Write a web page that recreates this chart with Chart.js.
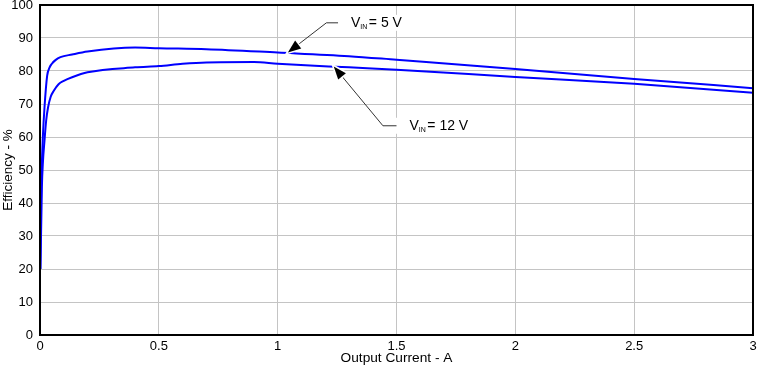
<!DOCTYPE html>
<html>
<head>
<meta charset="utf-8">
<script src="https://cdn.jsdelivr.net/npm/chart.js@4/dist/chart.umd.min.js"></script>
<style>
html, body { margin: 0; padding: 0; background: #fff; }
</style>
</head>
<body>
<canvas id="eff" width="757" height="371"></canvas>
<script>
// efficiency vs output current
var current5 = [0.001, 0.004, 0.007, 0.012, 0.019, 0.03, 0.04, 0.05, 0.065, 0.086, 0.135, 0.2, 0.4, 0.5, 0.7, 1.0, 1.3, 1.5, 2.0, 2.5, 3.0];
var eff5     = [20,    40,    50,    60,    69,    78.5, 81,   82.2, 83.3,  84.2,  85,    85.9, 87.1, 86.9, 86.6, 85.6, 84.5, 83.4, 80.6, 77.6, 74.8];

var current12 = [0.002, 0.008, 0.012, 0.019, 0.026, 0.034, 0.045, 0.058, 0.078, 0.1, 0.135, 0.2, 0.4, 0.5, 0.6, 0.7, 0.9, 1.0, 1.3, 1.5, 2.0, 2.5, 3.0];
var eff12     = [20,    45,    52,    59,    65,    69,    72.2,  74,    76,    77,  78.1,  79.6, 81.1, 81.5, 82.2, 82.6, 82.7, 82.2, 81.1, 80.4, 78.2, 76.1, 73.4];

var xTicks = [0, 0.5, 1, 1.5, 2, 2.5, 3];
var yTicks = [0, 10, 20, 30, 40, 50, 60, 70, 80, 90, 100];

var seriesNames = ['V_IN = 5 V', 'V_IN = 12 V'];

function toPoints(xs, ys) {
    return xs.map(function (x, i) { return { x: x, y: ys[i] }; });
}

var FONT = '"Liberation Sans", Arial, sans-serif';

// callouts, anchored in data units: arrow tip on the curve, elbow, end of the short flat bit
var notes = [
    { tip: [1.043, 85.6], elbow: [1.205, 94.6], end: [1.254, 94.6], main: '= 5 V' },
    { tip: [1.236, 81.4], elbow: [1.443, 63.4], end: [1.500, 63.4], main: '= 12 V' }
];

var framePlugin = {
    id: 'frame',
    afterDraw: function (chart) {
        var ctx = chart.ctx, a = chart.chartArea;
        var xs = chart.scales.x, ys = chart.scales.y;
        ctx.save();

        notes.forEach(function (n) {
            var tx = xs.getPixelForValue(n.tip[0]), ty = ys.getPixelForValue(n.tip[1]);
            var ex = xs.getPixelForValue(n.elbow[0]), ey = ys.getPixelForValue(n.elbow[1]);
            var hx = xs.getPixelForValue(n.end[0]);

            // label text widths
            ctx.font = '14px ' + FONT;
            var wV = ctx.measureText('V').width;
            var wMain = ctx.measureText(n.main).width;
            ctx.font = '7px ' + FONT;
            var wSub = ctx.measureText('IN').width;
            var textX = hx + 13;
            var total = wV + wSub + 1.5 + wMain;

            // white box behind the label
            ctx.fillStyle = '#fff';
            ctx.fillRect(hx - 1, ey - 8, textX - hx + total + 5, 16);

            // leader
            ctx.strokeStyle = '#333';
            ctx.lineWidth = 1;
            ctx.beginPath();
            ctx.moveTo(hx, ey);
            ctx.lineTo(ex, ey);
            ctx.lineTo(tx, ty);
            ctx.stroke();

            // arrow head
            var ang = Math.atan2(ty - ey, tx - ex);
            var len = 13, half = 5;
            var bx = tx - len * Math.cos(ang), by = ty - len * Math.sin(ang);
            var px = -Math.sin(ang) * half, py = Math.cos(ang) * half;
            ctx.beginPath();
            ctx.moveTo(tx, ty);
            ctx.lineTo(bx + px, by + py);
            ctx.lineTo(bx - px, by - py);
            ctx.closePath();
            ctx.strokeStyle = '#fff';
            ctx.lineWidth = 3;
            ctx.stroke();
            ctx.fillStyle = '#000';
            ctx.fill();

            // V_IN = x V
            ctx.fillStyle = '#000';
            ctx.textBaseline = 'middle';
            ctx.textAlign = 'left';
            ctx.font = '14px ' + FONT;
            ctx.fillText('V', textX, ey);
            ctx.font = '7px ' + FONT;
            ctx.fillText('IN', textX + wV, ey + 4);
            ctx.font = '14px ' + FONT;
            ctx.fillText(n.main, textX + wV + wSub + 1.5, ey);
        });

        // black box round the plot
        ctx.strokeStyle = '#000';
        ctx.lineWidth = 2;
        ctx.strokeRect(a.left, a.top, a.right - a.left, a.bottom - a.top);
        ctx.restore();
    }
};

new Chart(document.getElementById('eff'), {
    type: 'line',
    data: {
        datasets: [{
            label: seriesNames[0],
            data: toPoints(current5, eff5),
            borderColor: '#0000ff',
            borderWidth: 2,
            pointRadius: 0,
            fill: false,
            cubicInterpolationMode: 'monotone'
        }, {
            label: seriesNames[1],
            data: toPoints(current12, eff12),
            borderColor: '#0000ff',
            borderWidth: 2,
            pointRadius: 0,
            fill: false,
            cubicInterpolationMode: 'monotone'
        }]
    },
    options: {
        responsive: false,
        animation: false,
        devicePixelRatio: 1,
        layout: { padding: { left: 0, right: 4, top: 5, bottom: 0 } },
        plugins: {
            legend: { display: false },
            tooltip: { enabled: false }
        },
        scales: {
            x: {
                type: 'linear',
                min: xTicks[0],
                max: xTicks[xTicks.length - 1],
                afterBuildTicks: function (s) { s.ticks = xTicks.map(function (v) { return { value: v }; }); },
                afterFit: function (s) { s.height = 36; s.paddingLeft = 0; s.paddingRight = 0; },
                grid: { color: '#c4c4c4', lineWidth: 1, drawTicks: false },
                border: { color: '#000', width: 2 },
                ticks: {
                    color: '#000', padding: 4, font: { family: FONT, size: 13 },
                    callback: function (v) { return String(v); }
                },
                title: {
                    display: true,
                    text: 'Output Current - A',
                    color: '#000',
                    padding: { top: 0, bottom: 5 },
                    font: { family: FONT, size: 13.7 }
                }
            },
            y: {
                min: yTicks[0],
                max: yTicks[yTicks.length - 1],
                afterBuildTicks: function (s) { s.ticks = yTicks.map(function (v) { return { value: v }; }); },
                afterFit: function (s) { s.width = 40; s.paddingTop = 0; s.paddingBottom = 0; },
                grid: { color: '#c4c4c4', lineWidth: 1, drawTicks: false },
                border: { color: '#000', width: 2 },
                ticks: {
                    color: '#000', padding: 7, font: { family: FONT, size: 13 },
                    callback: function (v) { return String(v); }
                },
                title: {
                    display: true,
                    text: 'Efficiency - %',
                    color: '#000',
                    padding: 0,
                    font: { family: FONT, size: 13.5 }
                }
            }
        }
    },
    plugins: [framePlugin]
});
</script>
</body>
</html>
